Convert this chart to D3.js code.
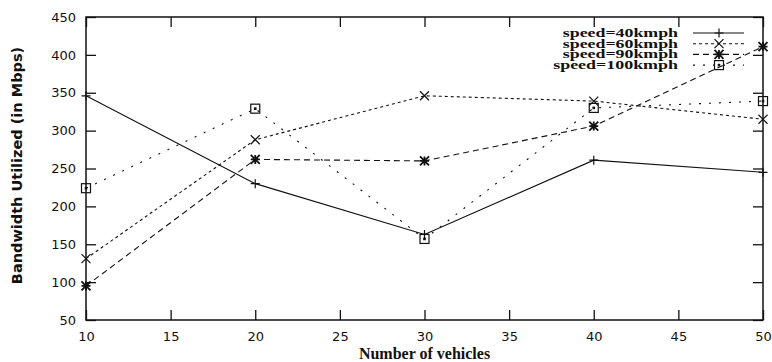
<!DOCTYPE html>
<html lang="en-us">
  <head>
    <meta charset="UTF-8">
    <script src="https://d3js.org/d3.v7.min.js"></script>
    <style>
      body { margin: 0; background: #fff; }
      text { fill: #111; }
    </style>
  </head>
  <body>
    <div id="my_dataviz"></div>
    <script>
      // data
      const vehicles = [10, 20, 30, 40, 50];
      const speed40 = [346, 230, 163, 261, 245];
      const speed60 = [131, 288, 346, 339, 315];
      const speed90 = [95, 262, 260, 306, 411];
      const speed100 = [224, 329, 157, 330, 339];
      const seriesNames = ["speed=40kmph", "speed=60kmph", "speed=90kmph", "speed=100kmph"];
      const xTicks = [10, 15, 20, 25, 30, 35, 40, 45, 50];
      const yTicks = [50, 100, 150, 200, 250, 300, 350, 400, 450];

      const margin = { top: 17, right: 9, bottom: 42, left: 86 },
        width = 772 - margin.left - margin.right,
        height = 362 - margin.top - margin.bottom;

      const svg = d3.select("#my_dataviz")
        .append("svg")
        .attr("width", 772)
        .attr("height", 362)
        .append("g")
        .attr("transform", `translate(${margin.left}, ${margin.top})`);

      const x = d3.scaleLinear().domain([10, 50]).range([0, width]);
      const y = d3.scaleLinear().domain([50, 450]).range([height, 0]);

      // frame
      svg.append("rect")
        .attr("width", width).attr("height", height)
        .attr("fill", "none").attr("stroke", "#111").attr("stroke-width", 1.5);

      // axes with inward ticks, mirrored on top / right
      const tickFont = "'DejaVu Sans', sans-serif";
      svg.append("g")
        .attr("transform", `translate(0, ${height})`)
        .call(d3.axisBottom(x).tickValues(xTicks).tickSize(-10).tickPadding(12))
        .call(g => g.select(".domain").remove())
        .selectAll("text").style("font-size", "13px").style("font-family", tickFont);
      svg.append("g")
        .call(d3.axisTop(x).tickValues(xTicks).tickSize(-10).tickFormat(""))
        .call(g => g.select(".domain").remove());
      svg.append("g")
        .call(d3.axisLeft(y).tickValues(yTicks).tickSize(-10).tickPadding(10))
        .call(g => g.select(".domain").remove())
        .selectAll("text").style("font-size", "13px").style("font-family", tickFont);
      svg.append("g")
        .attr("transform", `translate(${width}, 0)`)
        .call(d3.axisRight(y).tickValues(yTicks).tickSize(-10).tickFormat(""))
        .call(g => g.select(".domain").remove());
      svg.selectAll(".tick line").attr("stroke", "#111").attr("stroke-width", 1.3);

      // axis titles
      svg.append("text")
        .attr("x", width / 2).attr("y", height + 39)
        .attr("text-anchor", "middle")
        .style("font-family", "'Liberation Serif', serif")
        .style("font-weight", "bold").style("font-size", "16px")
        .text("Number of vehicles");
      svg.append("text")
        .attr("transform", `translate(${-64}, ${height / 2 - 3}) rotate(-90)`)
        .attr("text-anchor", "middle")
        .style("font-family", "'DejaVu Sans', sans-serif")
        .style("font-weight", "bold").style("font-size", "14.5px")
        .text("Bandwidth Utilized (in Mbps)");

      // markers
      function marker(g, type, cx, cy) {
        const s = 4.5;
        if (type === "plus") {
          g.append("path").attr("d", `M${cx - s},${cy}H${cx + s}M${cx},${cy - s}V${cy + s}`);
        } else if (type === "cross") {
          g.append("path").attr("d", `M${cx - s},${cy - s}L${cx + s},${cy + s}M${cx - s},${cy + s}L${cx + s},${cy - s}`);
        } else if (type === "star") {
          g.append("path").attr("d", `M${cx - s},${cy}H${cx + s}M${cx},${cy - s}V${cy + s}M${cx - s},${cy - s}L${cx + s},${cy + s}M${cx - s},${cy + s}L${cx + s},${cy - s}`)
            .attr("stroke-width", 1.8);
        } else {
          g.append("rect").attr("x", cx - s).attr("y", cy - s).attr("width", 2 * s).attr("height", 2 * s)
            .attr("fill", "none");
          g.append("rect").attr("x", cx - 0.7).attr("y", cy - 0.7).attr("width", 1.4).attr("height", 1.4)
            .attr("fill", "#111");
        }
      }

      const series = [
        { name: seriesNames[0], values: speed40, dash: null, type: "plus" },
        { name: seriesNames[1], values: speed60, dash: "3,3", type: "cross" },
        { name: seriesNames[2], values: speed90, dash: "6,4", type: "star" },
        { name: seriesNames[3], values: speed100, dash: "2,8", type: "square" }
      ];

      const line = d3.line().x(d => x(d[0])).y(d => y(d[1]));

      series.forEach((s, i) => {
        const pts = vehicles.map((v, j) => [v, s.values[j]]);
        svg.append("path")
          .datum(pts)
          .attr("d", line)
          .attr("fill", "none")
          .attr("stroke", "#111")
          .attr("stroke-width", 1.1)
          .attr("stroke-dasharray", s.dash);
        const mg = svg.append("g").attr("stroke", "#111").attr("stroke-width", 1.2);
        pts.forEach(p => marker(mg, s.type, x(p[0]), y(p[1])));

        // legend entry (wide, squat glyphs as in the original)
        const ly = 16 + i * 10.7;
        svg.append("text")
          .attr("x", 592).attr("y", ly + 4)
          .attr("text-anchor", "end")
          .attr("textLength", s.name.length * 9.6)
          .attr("lengthAdjust", "spacingAndGlyphs")
          .style("font-family", "'Liberation Serif', serif")
          .style("font-weight", "bold")
          .style("font-size", "11.5px")
          .text(s.name);
        svg.append("line")
          .attr("x1", 607).attr("x2", 658).attr("y1", ly).attr("y2", ly)
          .attr("stroke", "#111").attr("stroke-width", 1.1)
          .attr("stroke-dasharray", s.dash);
        const lg = svg.append("g").attr("stroke", "#111").attr("stroke-width", 1.2);
        marker(lg, s.type, 633, ly);
      });
    </script>
  </body>
</html>
